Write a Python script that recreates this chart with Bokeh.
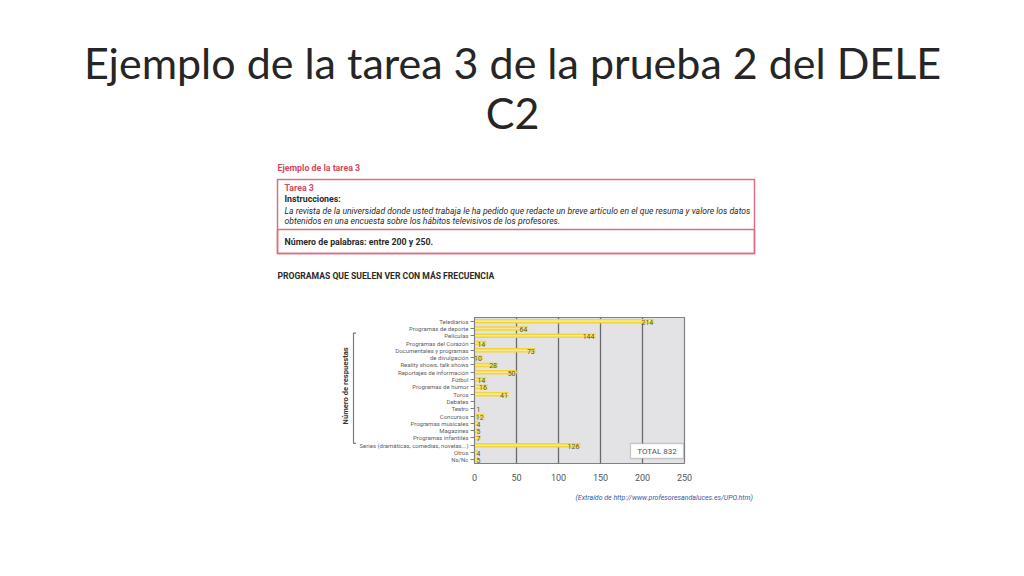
from bokeh.plotting import figure
from bokeh.layouts import column, row
from bokeh.models import (FactorRange, Range1d, FixedTicker, Label, BoxAnnotation,
                          ColumnDataSource, LabelSet)
from bokeh.core.properties import value, field
from bokeh.embed import file_html
from bokeh.resources import INLINE
import math

# ---------------- data ----------------
categories = ["Telediarios", "Programas de deporte", "Películas", "Programas del Corazón",
              "Documentales y programas", "de divulgación", "Reality shows, talk shows",
              "Reportajes de información", "Fútbol", "Programas de humor", "Toros", "Debates",
              "Teatro", "Concursos", "Programas musicales", "Magazines", "Programas infantiles",
              "Series (dramáticas, comedias, novelas...)", "Otros", "Ns/Nc"]
responses = [214, 64, 144, 14, 73, 10, 28, 50, 14, 16, 41, None, 1, 12, 4, 5, 7, 126, 4, 5]
x_ticks = [0, 50, 100, 150, 200, 250]
total_text = "TOTAL 832"

slide_title_1 = "Ejemplo de la tarea 3 de la prueba 2 del DELE"
slide_title_2 = "C2"
doc_heading = "Ejemplo de la tarea 3"
task_title = "Tarea 3"
instr_label = "Instrucciones:"
instr_line_1 = ("La revista de la universidad donde usted trabaja le ha pedido que redacte un "
                "breve artículo en el que resuma y valore los datos")
instr_line_2 = "obtenidos en una encuesta sobre los hábitos televisivos de los profesores."
words_text = "Número de palabras: entre 200 y 250."
chart_heading = "PROGRAMAS QUE SUELEN VER CON MÁS FRECUENCIA"
y_axis_title = "Número de respuestas"
source_text = "(Extraído de http://www.profesoresandaluces.es/UPO.htm)"

# ---------------- layout ----------------
W = 1008
TOP_H = 300          # top band: slide title + task box
MID_Y0, MID_Y1 = 300, 488
BOT_H = 560 - MID_Y1
LEFT_W = 356
F_L, F_R, F_T, F_B = 474, 684, 317, 463   # page coordinates of chart frame
FONT = "Roboto"


def deco_fig(width, height, x0, y0):
    f = figure(width=width, height=height, output_backend="svg", toolbar_location=None,
               x_range=Range1d(x0, x0 + width), y_range=Range1d(y0 + height, y0),
               x_axis_type=None, y_axis_type=None, min_border=0,
               outline_line_color=None)
    f.xgrid.visible = False
    f.ygrid.visible = False
    f.background_fill_color = "white"
    f.border_fill_color = "white"
    return f


def add_text(f, X, Y, t, size, color="#222222", style="normal", align="left", font=FONT,
             angle=0):
    f.text(x=[X], y=[Y], text=[t], text_align=align, text_baseline="middle",
           text_font=value(font), text_font_size=size, text_font_style=style,
           text_color=color, angle=angle)


# ---- top band ----
top = deco_fig(W, TOP_H, 0, 0)
add_text(top, 512, 62, slide_title_1, "43px", color="#262626", align="center", font="Lato")
add_text(top, 512, 112, slide_title_2, "43px", color="#262626", align="center", font="Lato")
red = "#d3475e"
box_red = "#d9707f"
add_text(top, 277, 167, doc_heading, "8.8px", color=red, style="bold")
top.quad(left=[277, 277], right=[754, 754], top=[179, 229], bottom=[253, 253],
         fill_color=None, line_color=box_red, line_width=1.5)
add_text(top, 284, 187, task_title, "8.8px", color=red, style="bold")
add_text(top, 284, 198, instr_label, "8.8px", color="#2a2a2a", style="bold")
add_text(top, 284, 210, instr_line_1, "8.6px", color="#2a2a2a", style="italic")
add_text(top, 284, 220, instr_line_2, "8.6px", color="#2a2a2a", style="italic")
add_text(top, 284, 241, words_text, "8.8px", color="#2a2a2a", style="bold")
add_text(top, 277, 275, chart_heading, "8.6px", color="#2a2a2a", style="bold")

# ---- left band (bracket + axis title) ----
left = deco_fig(LEFT_W, MID_Y1 - MID_Y0, 0, MID_Y0)
left.line(x=[357, 353, 353, 357], y=[320, 320, 462, 462], line_color="#7a7a7a",
          line_width=1.2)
add_text(left, 345, 388, y_axis_title, "7.6px", color="#333333", style="bold",
         align="center", angle=math.pi / 2)

# ---- chart ----
cats = [c for c, v in zip(categories, responses) if v is not None]
vals = [v for v in responses if v is not None]
src = ColumnDataSource(dict(
    cat=cats, val=vals,
    lx=[v if v >= 10 else 0 for v in vals],
    txt=[str(v) for v in vals],
    al=["right" if v >= 10 else "left" for v in vals],
    off=[-1 if v >= 10 else 2 for v in vals]))

CW = W - LEFT_W
CH = MID_Y1 - MID_Y0
p = figure(width=CW, height=CH, output_backend="svg", toolbar_location=None,
           y_range=FactorRange(factors=list(reversed(categories)), range_padding=0),
           x_range=Range1d(0, 250),
           min_border_left=F_L - LEFT_W, min_border_right=W - F_R,
           min_border_top=F_T - MID_Y0, min_border_bottom=MID_Y1 - F_B)
p.border_fill_color = "#ffffff"
p.background_fill_color = "#e3e3e6"
p.outline_line_color = "#808080"
p.outline_line_width = 1.2

p.hbar(y="cat", right="val", left=0, height=0.62, source=src,
       fill_color="#f1d43a", line_color=None)
p.hbar(y="cat", right="val", left=0, height=0.22, source=src,
       fill_color="#f8ea8c", line_color=None)

p.add_layout(LabelSet(x="lx", y="cat", text="txt", source=src, text_align=field("al"),
                      x_offset=field("off"), y_offset=-1, text_baseline="middle",
                      text_font=value(FONT), text_font_size="7px", text_color="#5a5430"))

p.xaxis.ticker = FixedTicker(ticks=x_ticks)
p.xaxis.major_label_text_font = FONT
p.xaxis.major_label_text_font_size = "9px"
p.xaxis.major_label_text_color = "#555555"
p.xaxis.axis_line_color = None
p.xaxis.major_tick_line_color = None
p.xaxis.minor_tick_line_color = None
p.xaxis.major_label_standoff = 4

p.yaxis.major_label_text_font = FONT
p.yaxis.major_label_text_font_size = "6px"
p.yaxis.major_label_text_color = "#606060"
p.yaxis.axis_line_color = "#808080"
p.yaxis.major_tick_line_color = "#808080"
p.yaxis.major_tick_out = 4
p.yaxis.major_tick_in = 0
p.yaxis.major_label_standoff = 2

p.xgrid.grid_line_color = "#6a6a6a"
p.xgrid.grid_line_width = 1.3
p.ygrid.grid_line_color = None


def sx(X):
    return X - F_L


def sy(Y):
    return F_B - Y


p.add_layout(BoxAnnotation(left=sx(630), right=sx(683), top=sy(443), bottom=sy(458),
                           left_units="screen", right_units="screen",
                           top_units="screen", bottom_units="screen",
                           fill_color="white", fill_alpha=1, line_color="#666666",
                           line_width=1.3))
p.add_layout(Label(x=sx(656.5), y=sy(450.5), x_units="screen", y_units="screen",
                   text=total_text, text_align="center", text_baseline="middle",
                   text_font=FONT, text_font_size="8px", text_color="#555555"))

# ---- bottom band ----
bottom = deco_fig(W, BOT_H, 0, MID_Y1)
add_text(bottom, 575, 497, source_text, "7px", color="#3559a5", style="italic")

layout = column(top, row(left, p), bottom)
open("out.html", "w").write(file_html(layout, INLINE))
